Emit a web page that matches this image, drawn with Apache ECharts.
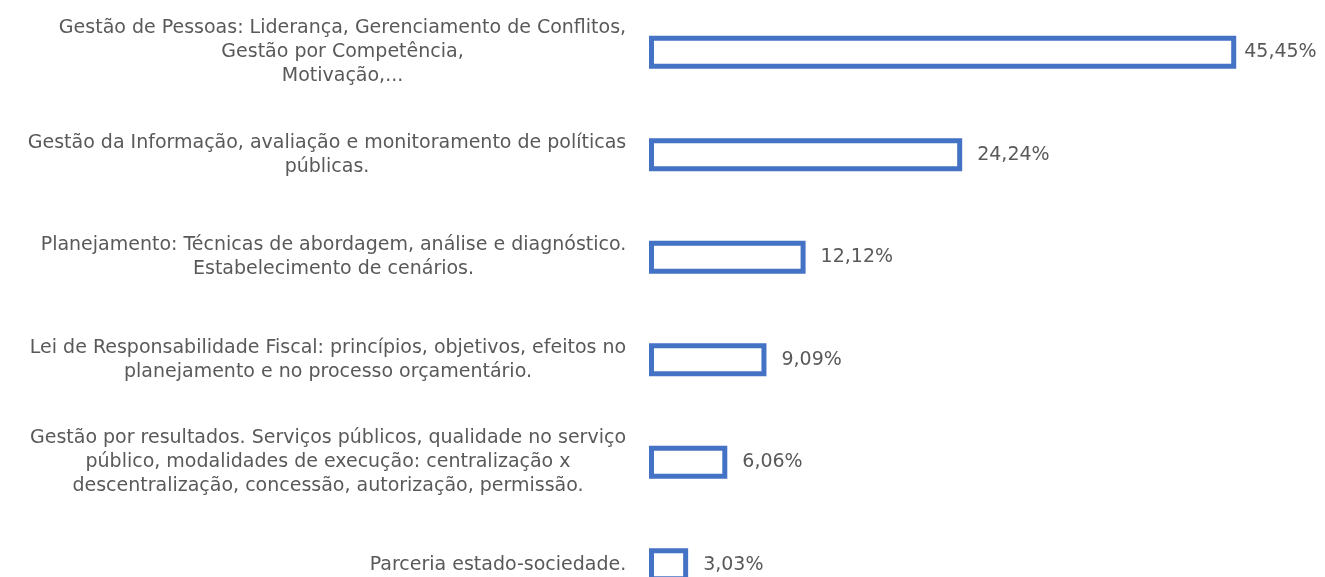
<!DOCTYPE html>
<html>
<head>
<meta charset="utf-8">
<script src="https://cdn.jsdelivr.net/npm/echarts@6/dist/echarts.min.js"></script>
<style>
  html,body{margin:0;padding:0;background:#fff;}
  #chart{width:1325px;height:577px;}
</style>
</head>
<body>
<div id="chart"></div>
<script>
(function(){
  // categorias (linhas de cada rótulo, de cima para baixo)
  const categories = [
    ['Gestão de Pessoas: Liderança, Gerenciamento de Conflitos,', 'Gestão por Competência,', 'Motivação,...'],
    ['Gestão da Informação, avaliação e monitoramento de políticas', 'públicas.'],
    ['Planejamento: Técnicas de abordagem, análise e diagnóstico.', 'Estabelecimento de cenários.'],
    ['Lei de Responsabilidade Fiscal: princípios, objetivos, efeitos no', 'planejamento e no processo orçamentário.'],
    ['Gestão por resultados. Serviços públicos, qualidade no serviço', 'público, modalidades de execução: centralização x', 'descentralização, concessão, autorização, permissão.'],
    ['Parceria estado-sociedade.']
  ];
  const values = [45.45, 24.24, 12.12, 9.09, 6.06, 3.03];

  const FONT_FAMILY = 'DejaVu Sans';
  const FONT_SIZE = 19;
  const TEXT_COLOR = '#595959';
  const BLUE = '#4472C4';

  const fmt = (v)=>v.toFixed(2).replace('.', ',') + '%';

  // mede a largura para centralizar as linhas dentro de cada bloco
  const ctx = document.createElement('canvas').getContext('2d');
  ctx.font = FONT_SIZE + 'px "' + FONT_FAMILY + '"';
  const rich = {};
  categories.forEach((lines, i)=>{
    const w = Math.max(...lines.map(l=>ctx.measureText(l).width));
    rich['c' + i] = {
      width: Math.ceil(w) + 1, align: 'center',
      fontFamily: FONT_FAMILY, fontSize: FONT_SIZE, color: TEXT_COLOR, lineHeight: 24
    };
  });
  const names = categories.map((_, i)=>'cat' + i);

  const chart = echarts.init(document.getElementById('chart'));
  chart.setOption({
    animation: false,
    grid: {left: 649, right: 30, top: 1, height: 615, outerBoundsMode: 'none', containLabel: false},
    xAxis: {
      type: 'value', min: 0, max: 50,
      show: false
    },
    yAxis: {
      type: 'category', inverse: true, data: names,
      axisLine: {show: false}, axisTick: {show: false}, splitLine: {show: false},
      axisLabel: {
        margin: 22,
        align: 'right',
        formatter: (v)=>{
          const i = names.indexOf(v);
          return categories[i].map(l=>'{c' + i + '|' + l + '}').join('\n');
        },
        rich: rich
      }
    },
    series: [{
      type: 'bar',
      barWidth: 33,
      data: values.map((v, i)=>({
        value: v,
        label: i === 0 ? {distance: 8} : undefined
      })),
      itemStyle: {color: '#ffffff', borderColor: BLUE, borderWidth: 5},
      label: {
        show: true, position: 'right', distance: 15,
        fontFamily: FONT_FAMILY, fontSize: FONT_SIZE, color: TEXT_COLOR,
        formatter: (p)=>fmt(p.value)
      }
    }]
  });
})();
</script>
</body>
</html>
